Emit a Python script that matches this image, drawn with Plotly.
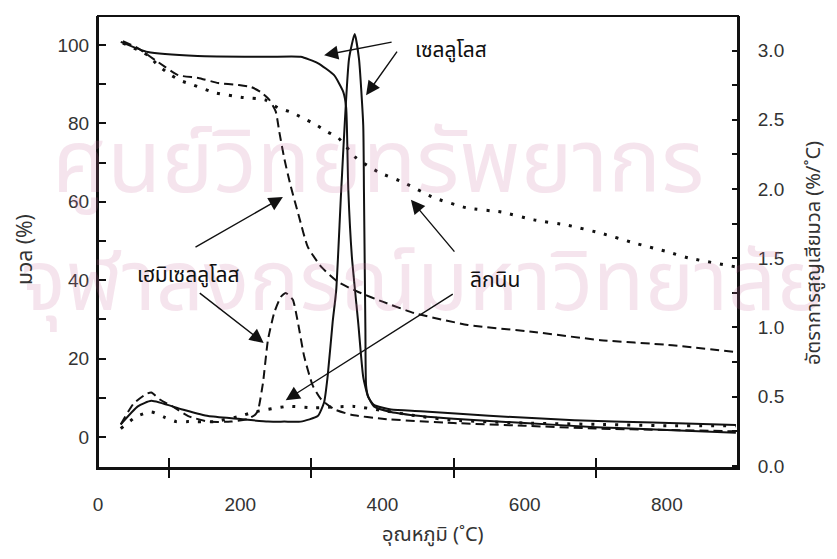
import plotly.graph_objects as go

# ---------------- data ----------------
# Thermogravimetric (TG) curves : mass (%) vs temperature (°C) -> left axis
cell_tg_t = [32, 70, 140, 239, 285, 309, 332, 345, 349, 352, 357, 366, 373, 380, 388, 412, 454, 550, 670, 780, 897]
cell_tg_m = [100.8, 98.2, 97.2, 97.0, 97.0, 95.4, 92.3, 88.0, 84.0, 63.0, 46.0, 29.0, 15.3, 10.2, 8.2, 7.0, 6.6, 5.4, 4.3, 3.7, 3.1]

hemi_tg_t = [35, 56, 84, 113, 141, 169, 197, 215, 229, 241, 250, 255, 262, 271, 283, 295, 314, 338, 366, 402, 445, 520, 613, 707, 802, 897]
hemi_tg_m = [101.0, 99.2, 95.7, 92.3, 91.6, 90.3, 89.8, 89.3, 88.0, 86.0, 83.0, 77.8, 71.0, 64.0, 56.0, 48.5, 43.4, 39.5, 37.0, 34.4, 31.6, 28.6, 26.8, 24.7, 23.5, 21.7]

lig_tg_t = [35, 70, 84, 98, 115, 134, 165, 201, 235, 253, 271, 288, 307, 323, 338, 363, 394, 429, 473, 520, 567, 613, 661, 707, 754, 802, 830, 897]
lig_tg_m = [100.5, 97.4, 94.9, 92.9, 91.0, 89.8, 87.8, 86.7, 86.0, 84.0, 82.9, 81.4, 79.6, 77.8, 76.3, 71.2, 67.6, 65.0, 61.0, 58.4, 57.4, 55.4, 54.0, 52.0, 49.5, 47.2, 45.7, 43.4]

# Derivative (DTG) curves : rate of mass loss (%/°C) -> right axis
cell_dtg_t = [32, 56, 75, 117, 155, 197, 239, 262, 285, 309, 318, 323, 330, 335, 342, 353, 361, 367, 373, 374, 376, 377, 380, 388, 412, 454, 500, 600, 700, 800, 897]
cell_dtg_r = [0.30, 0.43, 0.47, 0.41, 0.36, 0.34, 0.32, 0.32, 0.32, 0.36, 0.46, 0.65, 1.04, 1.27, 1.99, 2.94, 3.12, 2.94, 2.46, 1.98, 1.00, 0.58, 0.50, 0.43, 0.39, 0.36, 0.34, 0.31, 0.28, 0.26, 0.24]

hemi_dtg_t = [32, 50, 68, 75, 87, 108, 127, 155, 187, 211, 221, 225, 232, 239, 248, 257, 264, 274, 281, 290, 302, 314, 332, 356, 400, 500, 600, 700, 800, 897]
hemi_dtg_r = [0.30, 0.45, 0.52, 0.53, 0.48, 0.42, 0.36, 0.32, 0.32, 0.34, 0.37, 0.40, 0.60, 0.91, 1.11, 1.22, 1.25, 1.20, 1.04, 0.79, 0.58, 0.48, 0.41, 0.37, 0.34, 0.31, 0.29, 0.27, 0.26, 0.25]

lig_dtg_t = [32, 55, 75, 94, 110, 127, 163, 200, 220, 267, 304, 360, 400, 450, 500, 600, 700, 800, 897]
lig_dtg_r = [0.27, 0.36, 0.39, 0.35, 0.32, 0.32, 0.32, 0.36, 0.39, 0.43, 0.42, 0.43, 0.40, 0.36, 0.33, 0.31, 0.30, 0.29, 0.29]

# tick values / labels
x_label_vals = [0, 200, 400, 600, 800]
x_mark_vals = [100, 300, 500, 700]
y1_vals = [0, 20, 40, 60, 80, 100]
y2_vals = [0.0, 0.5, 1.0, 1.5, 2.0, 2.5, 3.0]

# labels with their arrows: (text, text_x, text_y, [(tail_x, tail_y, tip_x, tip_y), ...])  in data units (°C, mass %)
labels = [
    ("เซลลูโลส", 496, 98.7, [(415, 100.8, 318, 97.4), (422, 98.7, 377, 87.2)]),
    ("เฮมิเซลลูโลส", 127, 41.3, [(135, 48.2, 260, 61.2), (141, 37.0, 233, 24.0)]),
    ("ลิกนิน", 558, 40.0, [(503, 46.9, 440, 60.5), (501, 36.7, 264, 9.4)]),
]

wm_line1 = "ศูนย์วิทยทรัพยากร"
wm_line2 = "จุฬาลงกรณ์มหาวิทยาลัย"

x_title = "อุณหภูมิ (˚C)"
y1_title = "มวล (%)"
y2_title = "อัตราการสูญเสียมวล (%/˚C)"

# ---------------- figure ----------------
THAI = "Noto Sans Thai, Loma, Garuda, Tlwg Typo, Norasi, Noto Sans, DejaVu Sans, sans-serif"
NUM = "Liberation Sans, Arial, sans-serif"
INK = "#111111"

SOLID = dict(color=INK, width=2, shape="spline", smoothing=0.5)
DASH = dict(color=INK, width=2, dash="9px,5px", shape="spline", smoothing=0.5)
DOT = dict(color=INK, width=3, dash="3px,9px", shape="spline", smoothing=0.5)

# the page body has an 8px margin; plot area should sit at x 98..738, y 16..468 of the window
PL, PT, PW, PH = 90, 8, 640, 452
FIG_W, FIG_H = 821, 543

fig = go.Figure()
fig.add_trace(go.Scatter(x=cell_tg_t, y=cell_tg_m, mode="lines", line=SOLID, yaxis="y"))
fig.add_trace(go.Scatter(x=hemi_tg_t, y=hemi_tg_m, mode="lines", line=DASH, yaxis="y"))
fig.add_trace(go.Scatter(x=lig_tg_t, y=lig_tg_m, mode="lines", line=DOT, yaxis="y"))
fig.add_trace(go.Scatter(x=cell_dtg_t, y=cell_dtg_r, mode="lines", line=SOLID, yaxis="y2"))
fig.add_trace(go.Scatter(x=hemi_dtg_t, y=hemi_dtg_r, mode="lines", line=DASH, yaxis="y2"))
fig.add_trace(go.Scatter(x=lig_dtg_t, y=lig_dtg_r, mode="lines", line=DOT, yaxis="y2"))
# helper (empty) traces so that the overlay x axes for crossing ticks get drawn
fig.add_trace(go.Scatter(x=[None], y=[None], xaxis="x2", yaxis="y", hoverinfo="skip"))
fig.add_trace(go.Scatter(x=[None], y=[None], xaxis="x3", yaxis="y", hoverinfo="skip"))


def px(wx):  # window x pixel -> paper x
    return (wx - 8 - PL) / PW


def py(wy):  # window y pixel -> paper y
    return 1 - (wy - 8 - PT) / PH


annotations = []
WM = "rgba(200,110,160,0.19)"
annotations.append(dict(text=wm_line1, xref="paper", yref="paper", x=px(378), y=py(165), xanchor="center",
                        yanchor="middle", showarrow=False, font=dict(family=THAI, size=88, color=WM)))
annotations.append(dict(text=wm_line2, xref="paper", yref="paper", x=px(423), y=py(284), xanchor="center",
                        yanchor="middle", showarrow=False, font=dict(family=THAI, size=84, color=WM)))

for text, tx, ty, arrows in labels:
    annotations.append(dict(text=text, x=tx, y=ty, xref="x", yref="y", showarrow=False,
                            xanchor="center", yanchor="middle",
                            font=dict(family=THAI, size=21, color=INK)))
    for (ax_, ay_, x_, y_) in arrows:
        annotations.append(dict(text="", x=x_, y=y_, ax=ax_, ay=ay_, xref="x", yref="y", axref="x", ayref="y",
                                showarrow=True, arrowhead=2, arrowsize=2.0, arrowwidth=1.4, arrowcolor=INK,
                                standoff=0, startstandoff=0))

# axis titles
annotations.append(dict(text=x_title, xref="paper", yref="paper", x=px(433), y=py(535), xanchor="center",
                        yanchor="middle", showarrow=False, font=dict(family=THAI, size=20, color="#333")))
annotations.append(dict(text=y1_title, xref="paper", yref="paper", x=px(25), y=py(250), xanchor="center",
                        yanchor="middle", showarrow=False, textangle=-90,
                        font=dict(family=THAI, size=21, color="#333")))
annotations.append(dict(text=y2_title, xref="paper", yref="paper", x=px(814), y=py(253), xanchor="center",
                        yanchor="middle", showarrow=False, textangle=-90,
                        font=dict(family=THAI, size=20, color="#333")))

fig.update_layout(
    width=FIG_W, height=FIG_H,
    margin=dict(l=PL, r=FIG_W - PL - PW, t=PT, b=FIG_H - PT - PH),
    paper_bgcolor="white", plot_bgcolor="rgba(0,0,0,0)",
    showlegend=False,
    annotations=annotations,
    shapes=[dict(type="rect", xref="paper", yref="paper", x0=0, x1=1, y0=0, y1=1,
                 line=dict(color=INK, width=2), layer="above")],
    xaxis=dict(range=[0, 900], tickvals=x_label_vals, ticks="", showgrid=False, zeroline=False,
               showline=True, linecolor=INK, linewidth=2,
               tickfont=dict(family=NUM, size=19, color="#333"), ticklabelstandoff=18),
    xaxis2=dict(range=[0, 900], overlaying="x", anchor="y", side="bottom", tickvals=x_mark_vals,
                showticklabels=False, ticks="outside", ticklen=9, tickwidth=1.5, tickcolor=INK,
                showgrid=False, zeroline=False, showline=False),
    xaxis3=dict(range=[0, 900], overlaying="x", anchor="y", side="bottom", tickvals=x_mark_vals,
                showticklabels=False, ticks="inside", ticklen=10, tickwidth=1.5, tickcolor=INK,
                showgrid=False, zeroline=False, showline=False),
    yaxis=dict(range=[-7.9, 107.4], tickvals=y1_vals, ticks="inside", ticklen=8, tickwidth=1.5, tickcolor=INK,
               minor=dict(dtick=10, tick0=0, ticks="inside", ticklen=8, tickwidth=1.5, tickcolor=INK),
               showgrid=False, zeroline=False, showline=True, linecolor=INK, linewidth=2,
               tickfont=dict(family=NUM, size=19, color="#333"), ticklabelstandoff=3),
    yaxis2=dict(range=[-0.015, 3.25], overlaying="y", side="right", anchor="x", tickvals=y2_vals,
                tickformat=".1f", ticks="inside", ticklen=6, tickwidth=1.5, tickcolor=INK,
                minor=dict(dtick=0.25, tick0=0, ticks="inside", ticklen=6, tickwidth=1.5, tickcolor=INK),
                showgrid=False, zeroline=False, showline=True, linecolor=INK, linewidth=2,
                tickfont=dict(family=NUM, size=19, color="#333"), ticklabelstandoff=14),
)

fig.write_html("out.html")
